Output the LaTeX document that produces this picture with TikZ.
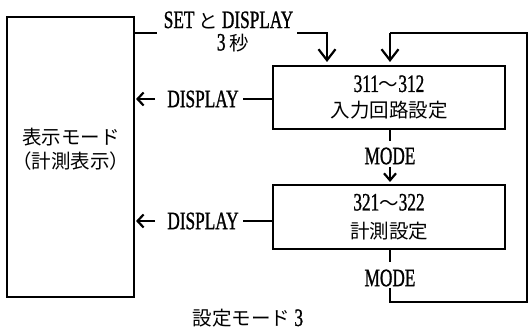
\documentclass[tikz,border=0pt]{standalone}
\usepackage{fontspec}
\newfontfamily\jpf{Noto Sans CJK JP}
\newfontfamily\latf[FakeStretch=0.69,FakeBold=1]{Liberation Serif}
\newcommand\LatinT[1]{{\latf\fontsize{25}{27}\selectfont #1}}
\usetikzlibrary{arrows.meta}
\tikzset{
  box/.style={draw, line width=1.1pt, inner sep=0pt, align=center},
  txt/.style={inner sep=0pt, align=center},
  thinline/.style={line width=1.1pt},
  bigarrow/.style={line width=2.2pt, -{Straight Barb[length=11pt,width=17pt]}},
  midarrow/.style={line width=2.2pt, -{Straight Barb[length=7pt,width=12pt]}},
  sidearrow/.style={line width=2.2pt, -{Straight Barb[length=6pt,width=13pt]}},
}
\begin{document}
\begin{tikzpicture}[x=1pt,y=-1pt, font=\jpf\fontsize{19.5}{27}\selectfont]
\useasboundingbox (0,0) rectangle (531,331);
% boxes
\node[box, minimum width=127pt, minimum height=280pt] (L) at (70.5,157) {};
\node[txt] (Lt) at (71,149) {表示モード\\[-3pt]（計測表示）};
\node[box, minimum width=232pt, minimum height=63pt] (B1) at (389,97.5) {\LatinT{311}～\LatinT{312}\\[-1pt]入力回路設定};
\node[box, minimum width=232pt, minimum height=64pt] (B2) at (389,217) {\LatinT{321}～\LatinT{322}\\[1pt]計測設定};
% labels
\node[txt] (S1) at (228.5,20) {\LatinT{SET}\hspace{4pt}と\hspace{4pt}\LatinT{DISPLAY}};
\node[txt] (S2) at (233,43) {\LatinT{3}\hspace{4pt}秒};
\node[txt] (D1) at (203,99) {\LatinT{DISPLAY}};
\node[txt] (D2) at (203,221) {\LatinT{DISPLAY}};
\node[txt] (M1) at (390,156) {\LatinT{MODE}};
\node[txt] (M2) at (390,278) {\LatinT{MODE}};
\node[txt] (cap) at (248,318.5) {設定モード\hspace{4pt}\LatinT{3}};
% coordinates
\coordinate (a1) at (157,33);
\coordinate (a2) at (297,33);
\coordinate (a3) at (327,62);
\coordinate (r1) at (527,33);
\coordinate (r2) at (527,302);
\coordinate (c1) at (390,33);
\coordinate (c2) at (390,62);
\coordinate (m1a) at (390,141);
\coordinate (m1b) at (390,167);
\coordinate (m1c) at (390,182);
\coordinate (m2a) at (390,262);
\coordinate (m2b) at (390,288);
\coordinate (m2c) at (390,302);
\coordinate (d1a) at (243,99);
\coordinate (d1b) at (155,99);
\coordinate (d2a) at (243,221);
\coordinate (d2b) at (155,221);
% connectors
\draw[thinline] (L.east |- a1) -- (a1);
\draw[bigarrow] (a2) -| (a3);
\draw[thinline] (B1.south -| m1a) -- (m1a);
\draw[midarrow] (m1b) -- (m1c);
\draw[thinline] (B2.south -| m2a) -- (m2a);
\draw[thinline] (m2b) -- (m2c) -- (r2) -- (r1) -- (c1);
\draw[bigarrow] (c1) -- (c2);
\draw[thinline] (B1.west |- d1a) -- (d1a);
\draw[sidearrow] (d1b) -- ([xshift=1.5pt]L.east |- d1b);
\draw[thinline] (B2.west |- d2a) -- (d2a);
\draw[sidearrow] (d2b) -- ([xshift=1.5pt]L.east |- d2b);
\end{tikzpicture}
\end{document}
